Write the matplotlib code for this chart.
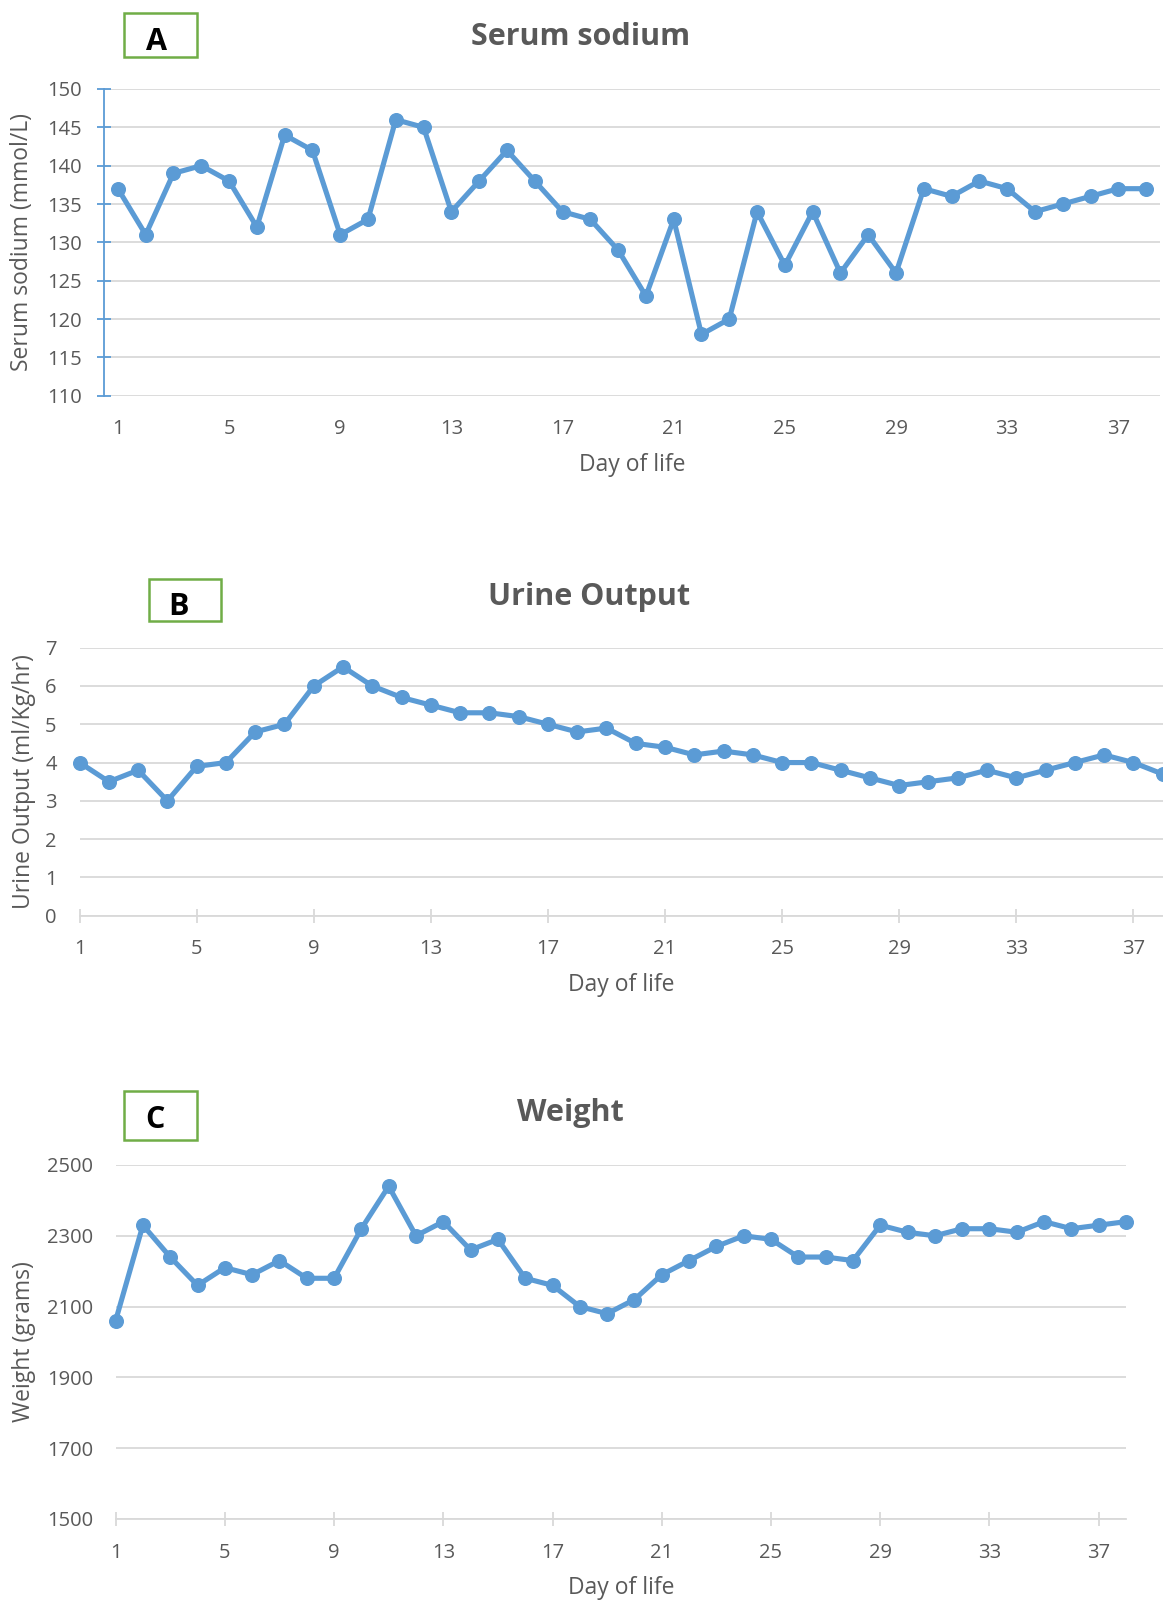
import matplotlib
matplotlib.use("Agg")
import matplotlib.pyplot as plt
from matplotlib.patches import Rectangle

plt.rcParams['font.family'] = ['Open Sans', 'DejaVu Sans']

days = list(range(1, 39))
sodium = [137, 131, 139, 140, 138, 132, 144, 142, 131, 133, 146, 145, 134, 138, 142, 138,
          134, 133, 129, 123, 133, 118, 120, 134, 127, 134, 126, 131, 126, 137, 136, 138,
          137, 134, 135, 136, 137, 137]
urine = [4.0, 3.5, 3.8, 3.0, 3.9, 4.0, 4.8, 5.0, 6.0, 6.5, 6.0, 5.7, 5.5, 5.3, 5.3, 5.2,
         5.0, 4.8, 4.9, 4.5, 4.4, 4.2, 4.3, 4.2, 4.0, 4.0, 3.8, 3.6, 3.4, 3.5, 3.6, 3.8,
         3.6, 3.8, 4.0, 4.2, 4.0, 3.7]
weight = [2060, 2330, 2240, 2160, 2210, 2190, 2230, 2180, 2180, 2320, 2440, 2300, 2340, 2260,
          2290, 2180, 2160, 2100, 2080, 2120, 2190, 2230, 2270, 2300, 2290, 2240, 2240, 2230,
          2330, 2310, 2300, 2320, 2320, 2310, 2340, 2320, 2330, 2340]
xticks = [1, 5, 9, 13, 17, 21, 25, 29, 33, 37]
sodium_ticks = list(range(110, 151, 5))
urine_ticks = list(range(0, 8))
weight_ticks = list(range(1500, 2501, 200))

W, H = 1163, 1600
BLUE = '#5B9BD5'
GRID = '#D9D9D9'
TXT = '#595959'
GREEN = '#70AD47'

TICK_FS = 14.5
LAB_FS = 16.5
TITLE_FS = 22

fig = plt.figure(figsize=(W / 100, H / 100), dpi=100)


def px_axes(left, top, right, bottom):
    return fig.add_axes([left / W, 1 - bottom / H, (right - left) / W, (bottom - top) / H])


def style(ax, vals, ylab, ylabx, xlaby):
    ax.plot(days, vals, color=BLUE, lw=3.7, marker='o', ms=9.8,
            solid_joinstyle='round', zorder=3, clip_on=False)
    ax.yaxis.grid(True, color=GRID, lw=1.3, zorder=0)
    ax.set_axisbelow(True)
    for s in ['top', 'right', 'left', 'bottom']:
        ax.spines[s].set_visible(False)
    ax.set_xticks(xticks)
    ax.tick_params(axis='both', labelsize=TICK_FS, labelcolor=TXT)
    ax.set_xlabel('Day of life', fontsize=LAB_FS, color=TXT, va='center')
    ax.xaxis.set_label_coords(0.5, xlaby)
    ax.set_ylabel(ylab, fontsize=LAB_FS, color=TXT, va='center', ha='center')
    ax.yaxis.set_label_coords(ylabx, 0.5)


# Panel A
axA = px_axes(104, 89, 1160, 395.7)
style(axA, sodium, 'Serum sodium (mmol/L)', -0.0777, -0.226)
axA.set_xlim(0.5, 38.5)
axA.set_ylim(110, 150)
axA.set_yticks(sodium_ticks)
axA.spines['left'].set_visible(True)
axA.spines['left'].set_color(BLUE)
axA.spines['left'].set_linewidth(1.3)
axA.tick_params(axis='y', direction='inout', length=10.5, width=1.3, color=BLUE, pad=11)
axA.tick_params(axis='x', length=0, pad=16.5)

# Panel B
axB = px_axes(79.6, 647.7, 1162.6, 915.7)
style(axB, urine, 'Urine Output (ml/Kg/hr)', -0.0513, -0.259)
axB.set_xlim(1, 38)
axB.set_ylim(0, 7)
axB.set_yticks(urine_ticks)
axB.spines['bottom'].set_visible(True)
axB.spines['bottom'].set_color(GRID)
axB.spines['bottom'].set_linewidth(1.3)
axB.tick_params(axis='x', direction='inout', length=10.5, width=1.3, color=GRID, pad=11.5)
axB.tick_params(axis='y', length=0, pad=16.5)

# Panel C
axC = px_axes(115.6, 1165, 1126, 1519)
style(axC, weight, 'Weight (grams)', -0.0907, -0.195)
axC.set_xlim(1, 38)
axC.set_ylim(1500, 2500)
axC.set_yticks(weight_ticks)
axC.spines['bottom'].set_visible(True)
axC.spines['bottom'].set_color(GRID)
axC.spines['bottom'].set_linewidth(1.3)
axC.tick_params(axis='x', direction='inout', length=10.5, width=1.3, color=GRID, pad=12)
axC.tick_params(axis='y', length=0, pad=16.3)

# Titles
for txt, x, y in [('Serum sodium', 581, 45), ('Urine Output', 589, 605), ('Weight', 570, 1121)]:
    fig.text(x / W, 1 - y / H, txt, fontsize=TITLE_FS, fontweight='bold', color=TXT,
             ha='center', va='baseline')

# Panel letter boxes
for letter, (l, t, r, b), lx, ly in [('A', (124, 13, 197, 57), 156, 50),
                                     ('B', (148.5, 579, 221, 621), 178.5, 615),
                                     ('C', (124, 1091, 197, 1140), 155, 1128)]:
    fig.patches.append(Rectangle((l / W, 1 - b / H), (r - l) / W, (b - t) / H,
                                 transform=fig.transFigure, fill=False,
                                 edgecolor=GREEN, lw=1.8))
    fig.text(lx / W, 1 - ly / H, letter, fontsize=22, fontweight='bold', color='black',
             ha='center', va='baseline')

fig.savefig('out.png', dpi=100, facecolor='white')
